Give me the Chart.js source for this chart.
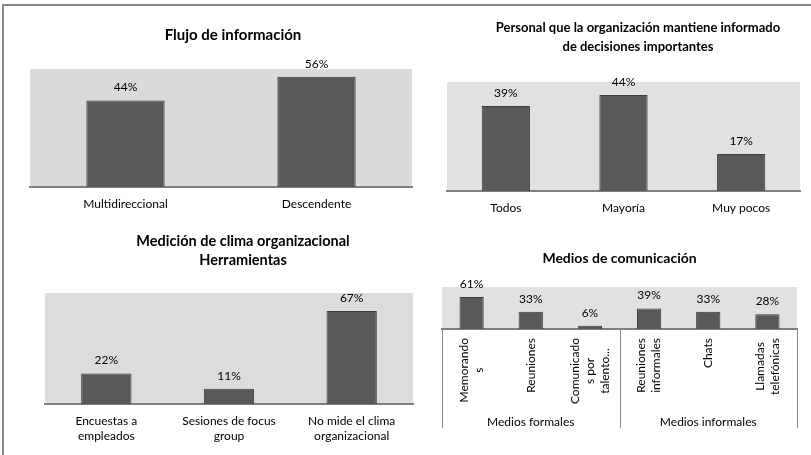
<!DOCTYPE html>
<html>
<head>
<meta charset="utf-8">
<script src="https://cdn.jsdelivr.net/npm/chart.js@4.4.1/dist/chart.umd.min.js"></script>
<style>
  html, body { margin: 0; padding: 0; background: #fff; overflow: hidden; }
  #page { position: relative; width: 811px; height: 455px; overflow: hidden; }
  canvas { position: absolute; }
  .frameTop { position: absolute; left: 2px; top: 4px; width: 809px; height: 2px; background: #8a8a8a; }
  .frameLeft { position: absolute; left: 2px; top: 4px; width: 2px; height: 451px; background: #8a8a8a; }
</style>
</head>
<body>
<div id="page">
  <div class="frameTop"></div>
  <div class="frameLeft"></div>
  <canvas id="flujo" width="432" height="214" style="left:4px;top:6px"></canvas>
  <canvas id="personal" width="393" height="214" style="left:436px;top:6px"></canvas>
  <canvas id="clima" width="437" height="233" style="left:4px;top:222px"></canvas>
  <canvas id="medios" width="375" height="233" style="left:436px;top:222px"></canvas>
</div>
<script>
// Flujo de información
const flujoLabels = ['Multidireccional', 'Descendente'];
const flujoValues = [44, 56];

// Personal que la organización mantiene informado
const personalLabels = ['Todos', 'Mayoría', 'Muy pocos'];
const personalValues = [39, 44, 17];

// Medición de clima organizacional
const climaLabels = [['Encuestas a', 'empleados'], ['Sesiones de focus', 'group'], ['No mide el clima', 'organizacional']];
const climaValues = [22, 11, 67];

// Medios de comunicación
const mediosLabels = [['Memorando', 's'], ['Reuniones'], ['Comunicado', 's por', 'talento...'],
                      ['Reuniones', 'informales'], ['Chats'], ['Llamadas', 'telefónicas']];
const mediosValues = [61, 33, 6, 39, 33, 28];
const mediosGroups = ['Medios formales', 'Medios informales'];
const mediosGroupSizes = [3, 3];

Chart.defaults.font.family = 'Lato, "Open Sans", sans-serif';
Chart.defaults.color = '#000';

const FONT = 'Lato, "Open Sans", sans-serif';

// gray plot area
const plotBg = {
  id: 'plotBg',
  beforeDraw(chart, args, opts) {
    const a = chart.chartArea;
    const ctx = chart.ctx;
    ctx.save();
    ctx.fillStyle = opts.color || '#dcdcdc';
    ctx.fillRect(a.left, a.top, a.right - a.left, a.bottom - a.top);
    ctx.restore();
  }
};

// "44%" above each bar
const valueLabels = {
  id: 'valueLabels',
  afterDatasetsDraw(chart) {
    const ctx = chart.ctx;
    const meta = chart.getDatasetMeta(0);
    const data = chart.data.datasets[0].data;
    ctx.save();
    ctx.font = '12px ' + FONT;
    ctx.fillStyle = '#000';
    ctx.textAlign = 'center';
    ctx.textBaseline = 'middle';
    meta.data.forEach(function(bar, i) {
      ctx.fillText(data[i] + '%', bar.x, bar.y - 13);
    });
    ctx.restore();
  }
};

// rotated labels + group labels under the Medios chart
const groupAxis = {
  id: 'groupAxis',
  afterDraw(chart) {
    const ctx = chart.ctx;
    const x = chart.scales.x;
    const a = chart.chartArea;
    const base = a.bottom;
    const step = x.getPixelForValue(1) - x.getPixelForValue(0);
    ctx.save();
    ctx.font = '12px ' + FONT;
    ctx.fillStyle = '#000';
    mediosLabels.forEach(function(lines, i) {
      const cx = x.getPixelForValue(i);
      const maxW = Math.max.apply(null, lines.map(l => ctx.measureText(l).width));
      const cy = base + 9 + maxW / 2;
      lines.forEach(function(line, j) {
        ctx.save();
        ctx.translate(cx + (j - (lines.length - 1) / 2) * 15, cy);
        ctx.rotate(-Math.PI / 2);
        ctx.textAlign = 'center';
        ctx.textBaseline = 'middle';
        ctx.fillText(line, 0, 0);
        ctx.restore();
      });
    });
    // separators
    let bounds = [a.left];
    let count = 0;
    mediosGroupSizes.forEach(function(n) {
      count += n;
      bounds.push(x.getPixelForValue(count - 1) + step / 2);
    });
    ctx.strokeStyle = '#8a8a8a';
    ctx.lineWidth = 1;
    bounds.forEach(function(bx) {
      const px = Math.round(bx) + 0.5;
      ctx.beginPath();
      ctx.moveTo(px, base);
      ctx.lineTo(px, base + 99);
      ctx.stroke();
    });
    ctx.textAlign = 'center';
    ctx.textBaseline = 'middle';
    mediosGroups.forEach(function(g, i) {
      ctx.fillText(g, (bounds[i] + bounds[i + 1]) / 2, base + 93);
    });
    ctx.restore();
  }
};

function makeBarChart(id, labels, values, max, cfg) {
  const ctx = document.getElementById(id);
  return new Chart(ctx, {
    type: 'bar',
    data: {
      labels: labels,
      datasets: [{
        data: values,
        backgroundColor: '#595959',
        borderColor: '#3c3c3c',
        borderWidth: 1,
        categoryPercentage: 0.41,
        barPercentage: 1
      }]
    },
    plugins: cfg.plugins,
    options: {
      responsive: false,
      animation: false,
      devicePixelRatio: 1,
      layout: { padding: cfg.padding },
      plugins: {
        legend: { display: false },
        tooltip: { enabled: false },
        plotBg: { color: cfg.bg },
        title: {
          display: true,
          text: cfg.title,
          color: '#000',
          font: { size: cfg.titleSize, weight: 'bold', lineHeight: '19px' },
          padding: cfg.titlePad
        }
      },
      scales: {
        x: {
          grid: { display: false, drawTicks: false },
          border: { display: true, color: '#7f7f7f', width: 2 },
          ticks: {
            display: cfg.showTicks,
            padding: 10,
            autoSkip: false,
            maxRotation: 0,
            color: '#000',
            font: { size: 12, lineHeight: '15px' }
          },
          afterFit: function(s) { s.height = cfg.axisHeight; }
        },
        y: {
          position: 'right',
          min: 0,
          max: max,
          ticks: { display: false },
          grid: { display: false, drawTicks: false },
          border: { display: false },
          afterFit: function(s) { s.width = cfg.rightSpace; }
        }
      }
    }
  });
}

makeBarChart('flujo', flujoLabels, flujoValues, 60, {
  title: 'Flujo de información',
  titleSize: 15,
  titlePad: { top: 19.5, bottom: 24.5 },
  padding: { left: 26, right: 0, top: 0, bottom: 8 },
  axisHeight: 25,
  rightSpace: 24,
  bg: '#dadada',
  showTicks: true,
  plugins: [plotBg, valueLabels]
});

makeBarChart('personal', personalLabels, personalValues, 50, {
  title: ['Personal que la organización mantiene informado', 'de decisiones importantes'],
  titleSize: 13,
  titlePad: { top: 12.5, bottom: 25.5 },
  padding: { left: 11, right: 0, top: 0, bottom: 4 },
  axisHeight: 25,
  rightSpace: 29,
  bg: '#e1e1e1',
  showTicks: true,
  plugins: [plotBg, valueLabels]
});

makeBarChart('clima', climaLabels, climaValues, 80, {
  title: ['Medición de clima organizacional', 'Herramientas'],
  titleSize: 14.5,
  titlePad: { top: 9.5, bottom: 23.5 },
  padding: { left: 41, right: 0, top: 0, bottom: 11 },
  axisHeight: 40,
  rightSpace: 28,
  bg: '#dcdcdc',
  showTicks: true,
  plugins: [plotBg, valueLabels]
});

makeBarChart('medios', mediosLabels, mediosValues, 80, {
  title: 'Medios de comunicación',
  titleSize: 14,
  titlePad: { top: 26.5, bottom: 19.5 },
  padding: { left: 6, right: 14, top: 0, bottom: 126 },
  axisHeight: 0,
  rightSpace: 0,
  bg: '#e1e1e1',
  showTicks: false,
  plugins: [plotBg, valueLabels, groupAxis]
});
</script>
</body>
</html>
